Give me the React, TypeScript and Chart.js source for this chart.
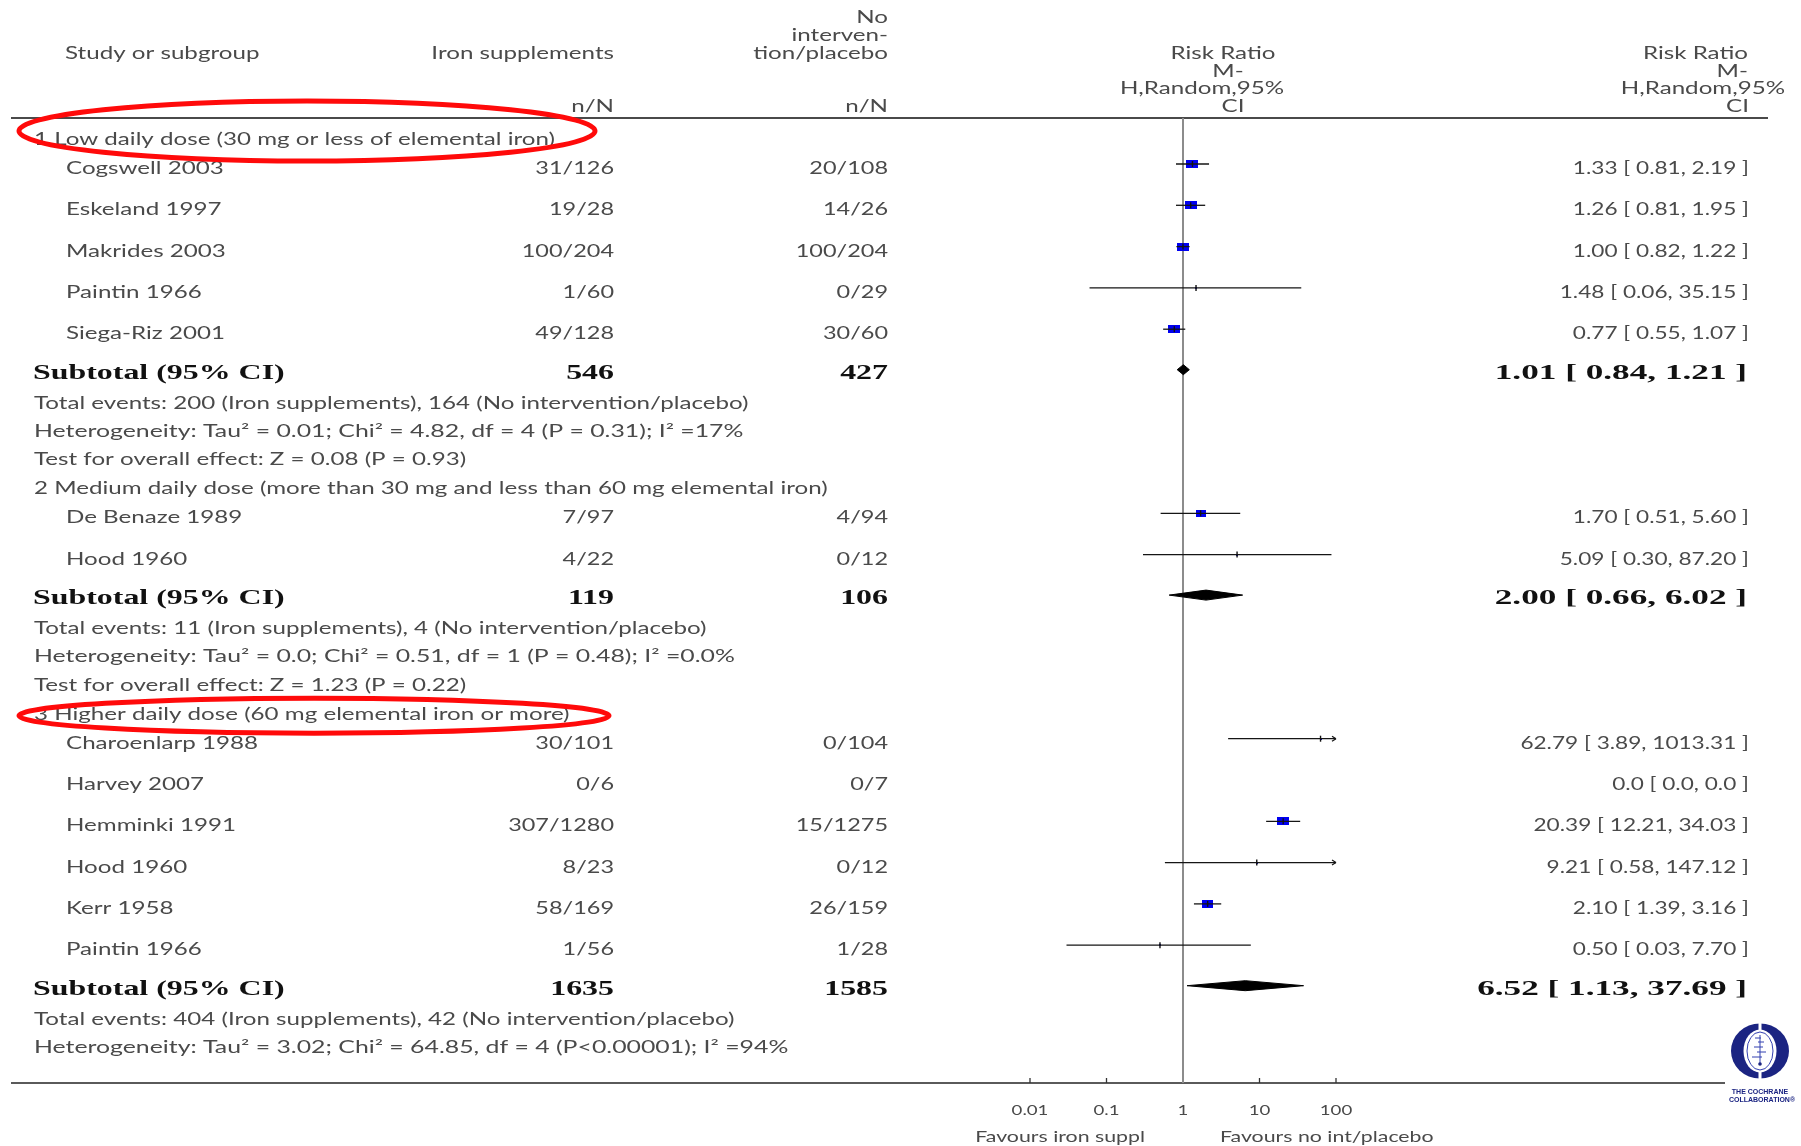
import React, { useEffect, useRef } from "react";
import { Chart, registerables } from "chart.js";

Chart.register(...registerables);

// ---- Data -----------------------------------------------------------------
const groupTitles = [
  "1 Low daily dose (30 mg or less of elemental iron)",
  "2 Medium daily dose (more than 30 mg and less than 60 mg elemental iron)",
  "3 Higher daily dose (60 mg elemental iron or more)",
];

const studyNames = [
  ["Cogswell 2003", "Eskeland 1997", "Makrides 2003", "Paintin 1966", "Siega-Riz 2001"],
  ["De Benaze 1989", "Hood 1960"],
  ["Charoenlarp 1988", "Harvey 2007", "Hemminki 1991", "Hood 1960", "Kerr 1958", "Paintin 1966"],
];

const ironEvents = [[31, 19, 100, 1, 49], [7, 4], [30, 0, 307, 8, 58, 1]];
const ironTotals = [[126, 28, 204, 60, 128], [97, 22], [101, 6, 1280, 23, 169, 56]];
const ctrlEvents = [[20, 14, 100, 0, 30], [4, 0], [0, 0, 15, 0, 26, 1]];
const ctrlTotals = [[108, 26, 204, 29, 60], [94, 12], [104, 7, 1275, 12, 159, 28]];

const riskRatio = [[1.33, 1.26, 1.0, 1.48, 0.77], [1.7, 5.09], [62.79, 0, 20.39, 9.21, 2.1, 0.5]];
const ciLow = [[0.81, 0.81, 0.82, 0.06, 0.55], [0.51, 0.3], [3.89, 0, 12.21, 0.58, 1.39, 0.03]];
const ciHigh = [[2.19, 1.95, 1.22, 35.15, 1.07], [5.6, 87.2], [1013.31, 0, 34.03, 147.12, 3.16, 7.7]];
// relative marker weights (box area)
const boxWeight = [[22, 22, 21, 0.6, 20], [15, 0.8], [0.9, 0, 21, 0.8, 19, 0.8]];

const subtotalRR = [1.01, 2.0, 6.52];
const subtotalLow = [0.84, 0.66, 1.13];
const subtotalHigh = [1.21, 6.02, 37.69];

const heterogeneity = [
  "Heterogeneity: Tau\u00b2 = 0.01; Chi\u00b2 = 4.82, df = 4 (P = 0.31); I\u00b2 =17%",
  "Heterogeneity: Tau\u00b2 = 0.0; Chi\u00b2 = 0.51, df = 1 (P = 0.48); I\u00b2 =0.0%",
  "Heterogeneity: Tau\u00b2 = 3.02; Chi\u00b2 = 64.85, df = 4 (P<0.00001); I\u00b2 =94%",
];
const overallEffect = [
  "Test for overall effect: Z = 0.08 (P = 0.93)",
  "Test for overall effect: Z = 1.23 (P = 0.22)",
  "",
];

const axisTicks = [0.01, 0.1, 1, 10, 100];
const axisTickLabels = ["0.01", "0.1", "1", "10", "100"];
const favoursLeft = "Favours iron suppl";
const favoursRight = "Favours no int/placebo";
const expHeader = ["Iron supplements"];
const ctrlHeader = ["No", "interven-", "tion/placebo"];
const effectHeader = ["Risk Ratio", "M-", "H,Random,95%", "CI"];

// ---- Styling ----------------------------------------------------------------
const SANS = "Lato, 'Open Sans', sans-serif";
const SERIF = "'Liberation Serif', 'DejaVu Serif', serif";
const TEXT = "#4a4a4a";
const DARK = "#111111";
const SX_WORDS = 1.42; // horizontal stretch of running sans text
const SX_STATS = 1.46; // heterogeneity lines (wide spacing round "=")
const SX_COUNTS = 1.38; // n/N columns
const SX_EFFECT = 1.33; // effect estimate labels
const SXB = 1.45; // bold serif words and totals
const SXB_EFFECT = 1.6; // bold serif pooled estimates

type Row = { kind: string; g: number; i: number; text: string; y: number; sx: number };

const GAPS: Record<string, number> = {
  "start>group": 21,
  "group>study": 29,
  "study>study": 41.3,
  "study>subtotal": 38.5,
  "subtotal>note": 31,
  "note>note": 28.3,
  "note>group": 29,
};

function buildRows(): Row[] {
  const rows: Row[] = [];
  let y = 0;
  let prev = "start";
  const push = (kind: string, g: number, i = -1, text = "", sx = SX_WORDS) => {
    y += GAPS[prev + ">" + kind];
    rows.push({ kind, g, i, text, y, sx });
    prev = kind;
  };
  groupTitles.forEach((title, g) => {
    push("group", g, -1, title);
    studyNames[g].forEach((_, i) => push("study", g, i));
    push("subtotal", g);
    const evI = ironEvents[g].reduce((a, b) => a + b, 0);
    const evC = ctrlEvents[g].reduce((a, b) => a + b, 0);
    push("note", g, -1, `Total events: ${evI} (Iron supplements), ${evC} (No intervention/placebo)`);
    push("note", g, -1, heterogeneity[g], SX_STATS);
    if (overallEffect[g]) push("note", g, -1, overallEffect[g]);
  });
  return rows;
}

const fmt = (v: number) => v.toFixed(2);
function effectLabel(rr: number, lo: number, hi: number) {
  if (!(rr > 0)) return "0.0 [ 0.0, 0.0 ]";
  return `${fmt(rr)} [ ${fmt(lo)}, ${fmt(hi)} ]`;
}

function drawText(
  ctx: CanvasRenderingContext2D,
  s: string,
  x: number,
  y: number,
  align: "left" | "right" | "center",
  font: string,
  color: string,
  sx: number
) {
  ctx.save();
  ctx.font = font;
  ctx.fillStyle = color;
  ctx.textAlign = "left";
  ctx.textBaseline = "alphabetic";
  const w = ctx.measureText(s).width * sx;
  const left = align === "left" ? x : align === "right" ? x - w : x - w / 2;
  ctx.translate(left, y);
  ctx.scale(sx, 1);
  ctx.fillText(s, 0, 0);
  ctx.restore();
}

function strokeLine(ctx: CanvasRenderingContext2D, x1: number, y1: number, x2: number, y2: number) {
  ctx.beginPath();
  ctx.moveTo(x1, y1);
  ctx.lineTo(x2, y2);
  ctx.stroke();
}

function drawLogo(ctx: CanvasRenderingContext2D, cx: number, cy: number) {
  ctx.save();
  const navy = "#1b2482";
  ctx.fillStyle = navy;
  ctx.beginPath();
  ctx.ellipse(cx, cy, 29, 27.5, 0, 0, Math.PI * 2);
  ctx.fill();
  ctx.fillStyle = "#ffffff";
  ctx.beginPath();
  ctx.ellipse(cx, cy, 16.5, 21.5, 0, 0, Math.PI * 2);
  ctx.fill();
  ctx.fillRect(cx - 1.5, cy - 28.5, 3, 8);
  ctx.fillRect(cx - 1.5, cy + 20.5, 3, 8);
  ctx.strokeStyle = "#3340b0";
  ctx.lineWidth = 1;
  ctx.beginPath();
  ctx.ellipse(cx, cy, 13, 19, 0, 0, Math.PI * 2);
  ctx.stroke();
  strokeLine(ctx, cx, cy - 16, cx, cy + 12);
  const bars: [number, number, number][] = [
    [-13, -5, 1],
    [-9, -2, 4],
    [-4, -6, 3],
    [1, -3, 6],
    [6, -8, 2],
  ];
  bars.forEach(([dy, a, b]) => strokeLine(ctx, cx + a, cy + dy, cx + b, cy + dy));
  ctx.fillStyle = navy;
  ctx.beginPath();
  ctx.arc(cx, cy + 13, 1.8, 0, Math.PI * 2);
  ctx.fill();
  ctx.font = "bold 7px 'Liberation Sans', Arial, sans-serif";
  ctx.textAlign = "center";
  ctx.fillText("THE COCHRANE", cx, cy + 42.5);
  ctx.fillText("COLLABORATION\u00ae", cx + 2, cy + 50.5);
  ctx.restore();
}

function makeBox(weight: number): HTMLCanvasElement {
  const h = Math.max(1.5, 1.75 * Math.sqrt(weight));
  const w = h * 1.5;
  const c = document.createElement("canvas");
  c.width = Math.max(2, Math.round(w));
  c.height = Math.max(2, Math.round(h));
  const cx = c.getContext("2d")!;
  cx.fillStyle = "#0000f0";
  cx.fillRect(0, 0, c.width, c.height);
  return c;
}

export default function App() {
  const ref = useRef<HTMLCanvasElement>(null);

  useEffect(() => {
    const canvas = ref.current;
    if (!canvas) return;
    const rows = buildRows();
    const studyRows = rows.filter((r) => r.kind === "study" && riskRatio[r.g][r.i] > 0);
    const subRows = rows.filter((r) => r.kind === "subtotal");
    const markY = (r: Row) => r.y - 4;

    const datasets: any[] = [];

    // estimate boxes
    datasets.push({
      data: studyRows.map((r) => ({ x: riskRatio[r.g][r.i], y: markY(r) })),
      pointStyle: studyRows.map((r) => makeBox(boxWeight[r.g][r.i])),
      pointRadius: 6,
      order: 3,
    });

    // confidence interval lines
    studyRows.forEach((r) => {
      datasets.push({
        data: [
          { x: ciLow[r.g][r.i], y: markY(r) },
          { x: ciHigh[r.g][r.i], y: markY(r) },
        ],
        showLine: true,
        borderColor: "#151515",
        borderWidth: 1.3,
        pointRadius: 0,
        order: 2,
      });
    });

    // point-estimate ticks
    datasets.push({
      data: studyRows.map((r) => ({ x: riskRatio[r.g][r.i], y: markY(r) })),
      pointStyle: "line",
      rotation: 90,
      pointRadius: 3,
      borderColor: "#111111",
      borderWidth: 1.4,
      order: 1,
    });

    // pooled diamonds
    subRows.forEach((r) => {
      const y = r.y - 2;
      const h = 5;
      const g = r.g;
      datasets.push({
        data: [
          { x: subtotalLow[g], y },
          { x: subtotalRR[g], y: y - h },
          { x: subtotalHigh[g], y },
          { x: subtotalRR[g], y: y + h },
          { x: subtotalLow[g], y },
        ],
        showLine: true,
        fill: "shape",
        backgroundColor: "#000000",
        borderColor: "#000000",
        borderWidth: 1,
        pointRadius: 0,
        tension: 0,
        order: 1,
      });
    });

    const decor = {
      id: "forestDecor",
      beforeDatasetsDraw(chart: any) {
        const { ctx, chartArea } = chart;
        const xs = chart.scales.x;
        const top = chartArea.top;
        const bottom = chartArea.bottom;
        ctx.save();
        ctx.strokeStyle = "#4a4a4a";
        ctx.lineWidth = 2;
        strokeLine(ctx, 11, top, 1768, top);
        ctx.strokeStyle = "#5a5a5a";
        strokeLine(ctx, 11, bottom, 1725, bottom);
        ctx.lineWidth = 1.3;
        ctx.strokeStyle = "#333333";
        axisTicks.forEach((v) => {
          const px = xs.getPixelForValue(v);
          strokeLine(ctx, px, bottom, px, bottom - 5);
        });
        ctx.strokeStyle = "#8c8c8c";
        ctx.lineWidth = 2;
        const x1 = xs.getPixelForValue(1);
        strokeLine(ctx, x1, top, x1, bottom);
        ctx.restore();
      },
      afterDatasetsDraw(chart: any) {
        const { ctx, chartArea } = chart;
        const xs = chart.scales.x;
        const ys = chart.scales.y;
        const sans = `17px ${SANS}`;
        const bold = `bold 22px ${SERIF}`;
        const xMax = xs.getPixelForValue(100);
        const xMin = xs.getPixelForValue(0.01);

        // arrows where an interval runs past the axis
        ctx.save();
        ctx.strokeStyle = "#151515";
        ctx.lineWidth = 1.2;
        studyRows.forEach((r) => {
          const py = ys.getPixelForValue(markY(r));
          if (ciHigh[r.g][r.i] > 100) {
            strokeLine(ctx, xMax - 4, py - 2.5, xMax, py);
            strokeLine(ctx, xMax - 4, py + 2.5, xMax, py);
          }
          if (ciLow[r.g][r.i] < 0.01) {
            strokeLine(ctx, xMin + 4, py - 2.5, xMin, py);
            strokeLine(ctx, xMin + 4, py + 2.5, xMin, py);
          }
        });
        ctx.restore();

        // column headers
        drawText(ctx, "Study or subgroup", 65, 59, "left", sans, TEXT, SX_WORDS);
        drawText(ctx, expHeader[0], 614, 59, "right", sans, TEXT, SX_WORDS);
        ctrlHeader.forEach((s, k) => drawText(ctx, s, 888, 23 + k * 18, "right", sans, TEXT, SX_WORDS));
        drawText(ctx, "n/N", 614, 112, "right", sans, TEXT, SX_WORDS);
        drawText(ctx, "n/N", 888, 112, "right", sans, TEXT, SX_WORDS);
        const x1 = xs.getPixelForValue(1);
        const midOffsets = [40, 45, 19, 50];
        const rightEdges = [1748, 1748, 1785, 1749];
        effectHeader.forEach((s, k) => {
          const y = 59 + k * 17.7;
          drawText(ctx, s, x1 + midOffsets[k], y, "center", sans, TEXT, SX_WORDS);
          drawText(ctx, s, rightEdges[k], y, "right", sans, TEXT, SX_WORDS);
        });

        // table body
        rows.forEach((r) => {
          const cy = chartArea.top + r.y;
          if (r.kind === "group" || r.kind === "note") {
            drawText(ctx, r.text, 34, cy + 6, "left", sans, TEXT, r.sx);
          } else if (r.kind === "study") {
            const g = r.g;
            const i = r.i;
            drawText(ctx, studyNames[g][i], 66, cy + 6, "left", sans, TEXT, SX_WORDS);
            drawText(ctx, `${ironEvents[g][i]}/${ironTotals[g][i]}`, 614, cy + 6, "right", sans, TEXT, SX_COUNTS);
            drawText(ctx, `${ctrlEvents[g][i]}/${ctrlTotals[g][i]}`, 888, cy + 6, "right", sans, TEXT, SX_COUNTS);
            drawText(ctx, effectLabel(riskRatio[g][i], ciLow[g][i], ciHigh[g][i]), 1749, cy + 6, "right", sans, TEXT, SX_EFFECT);
          } else if (r.kind === "subtotal") {
            const g = r.g;
            const nI = ironTotals[g].reduce((a, b) => a + b, 0);
            const nC = ctrlTotals[g].reduce((a, b) => a + b, 0);
            drawText(ctx, "Subtotal (95% CI)", 33, cy + 7, "left", bold, DARK, SXB);
            drawText(ctx, String(nI), 614, cy + 7, "right", bold, DARK, SXB);
            drawText(ctx, String(nC), 888, cy + 7, "right", bold, DARK, SXB);
            drawText(ctx, effectLabel(subtotalRR[g], subtotalLow[g], subtotalHigh[g]), 1747, cy + 7, "right", bold, DARK, SXB_EFFECT);
          }
        });

        // axis labels
        const bottom = chartArea.bottom;
        axisTicks.forEach((v, k) => {
          drawText(ctx, axisTickLabels[k], xs.getPixelForValue(v), bottom + 32, "center", `14px ${SANS}`, TEXT, SX_EFFECT);
        });
        drawText(ctx, favoursLeft, x1 - 38, bottom + 59, "right", `15px ${SANS}`, TEXT, SX_WORDS);
        drawText(ctx, favoursRight, x1 + 37, bottom + 59, "left", `15px ${SANS}`, TEXT, SX_WORDS);

        drawLogo(ctx, 1760, 1051);

        // highlighted subgroups
        ctx.save();
        ctx.strokeStyle = "#ff0a0a";
        ctx.lineWidth = 5;
        const g1 = rows.find((r) => r.kind === "group" && r.g === 0)!;
        const g3 = rows.find((r) => r.kind === "group" && r.g === 2)!;
        ctx.beginPath();
        ctx.ellipse(307, chartArea.top + g1.y - 8, 288, 30, 0, 0, Math.PI * 2);
        ctx.stroke();
        ctx.beginPath();
        ctx.ellipse(314, chartArea.top + g3.y + 2, 295, 17.5, 0, 0, Math.PI * 2);
        ctx.stroke();
        ctx.restore();
      },
    };

    const chart = new Chart(canvas, {
      type: "scatter",
      data: { datasets },
      options: {
        animation: false,
        responsive: false,
        maintainAspectRatio: false,
        devicePixelRatio: 1,
        events: [],
        layout: { padding: { left: 1030, right: 465, top: 118, bottom: 63 } },
        plugins: { legend: { display: false }, tooltip: { enabled: false } },
        scales: {
          x: { type: "logarithmic", min: 0.01, max: 100, display: false },
          y: { type: "linear", min: 0, max: 965, reverse: true, display: false },
        },
      },
      plugins: [decor],
    } as any);

    return () => chart.destroy();
  }, []);

  return (
    <div style={{ position: "absolute", left: 0, top: 0, width: 1801, height: 1146, background: "#ffffff" }}>
      <canvas ref={ref} width={1801} height={1146} style={{ display: "block" }} />
    </div>
  );
}
